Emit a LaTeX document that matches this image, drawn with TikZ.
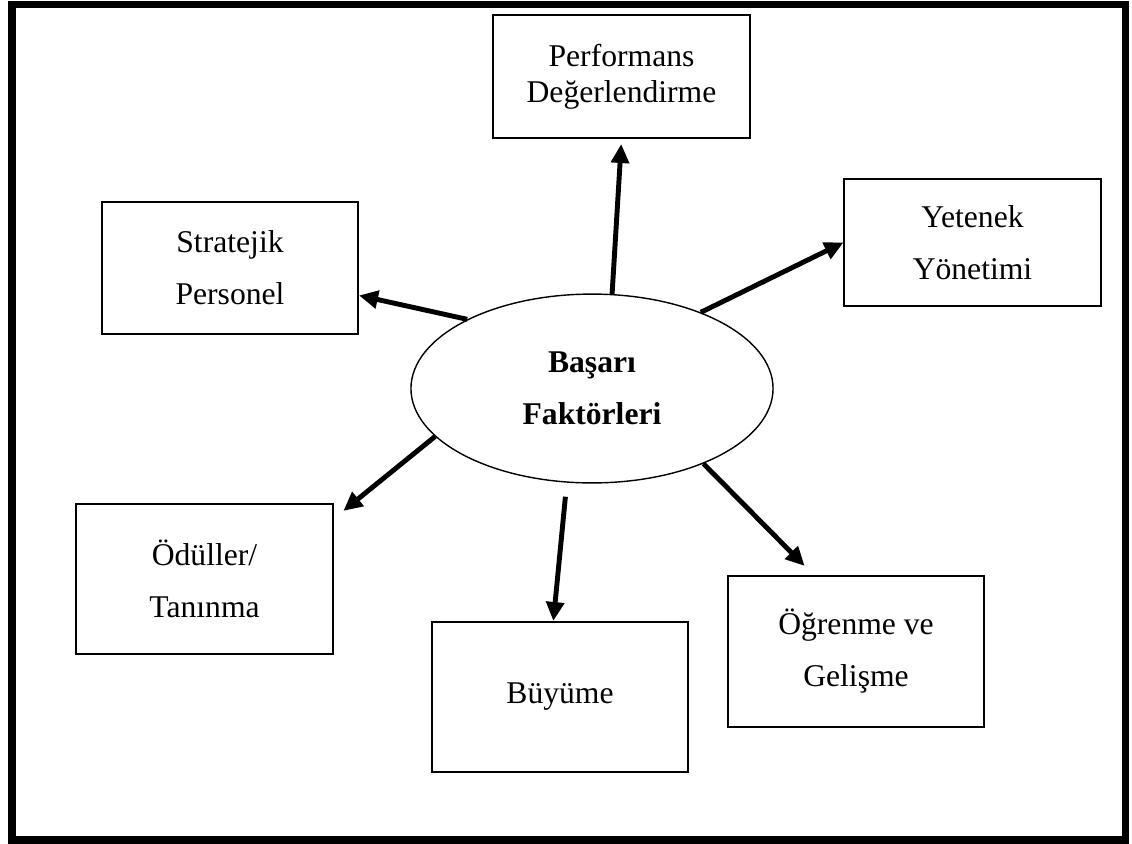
\documentclass[tikz,border=0pt]{standalone}
\usepackage{fontspec}
\setmainfont{Liberation Serif}
\usetikzlibrary{positioning,arrows.meta,shapes.geometric}
\tikzset{
  box/.style={rectangle,draw=black,line width=1.4pt,align=center,
    minimum width=6.4cm,minimum height=3.75cm,inner sep=2pt,
    font=\fontsize{22.5}{37}\selectfont},
  ctr/.style={ellipse,draw=black,line width=1pt,align=center,
    minimum width=9.05cm,minimum height=4.72cm,inner sep=0pt,
    font=\fontsize{22.5}{37}\selectfont\bfseries},
  arr/.style={-{Triangle[length=13.5pt,width=12.5pt]},line width=3.5pt},
  frame/.style={draw=black,line width=5.6pt},
}

\begin{document}
\begin{tikzpicture}[x=0.025cm,y=-0.025cm]
  \useasboundingbox (0,0) rectangle (1132,843);
  \draw[frame] (12,4.5) rectangle (1125.5,840);

  \node[ctr] (ctr) at (592,388.5) {Başarı\\Faktörleri};

  \node[box,minimum height=3.08cm,font=\fontsize{22.5}{25.6}\selectfont] (perf) at (621.5,76.5) {Performans\\Değerlendirme};
  \node[box,minimum height=3.3cm] (strat) at (230,268) {Stratejik\\Personel};
  \node[box,minimum height=3.18cm] (yet) at (972.5,242.5) {Yetenek\\Yönetimi};
  \node[box] (odul) at (204.5,579) {Ödüller/\\Tanınma};
  \node[box] (buy) at (560,697) {Büyüme};
  \node[box,minimum height=3.78cm] (ogr) at (856,651.5) {Öğrenme ve\\Gelişme};

  \draw[arr,shorten >=3.5pt] (ctr.78) -- (perf.south);
  \draw[arr] (ctr.35) -- (yet.west);
  \draw[arr] (ctr.151) -- (strat.-12);
  \draw[arr,shorten >=9pt] (ctr.197) -- (odul.25);
  \draw[arr,shorten <=10pt] (ctr.255) -- (buy.95);
  \draw[arr,shorten >=9pt] (ctr.-34) -- (ogr.119);
\end{tikzpicture}
\end{document}
